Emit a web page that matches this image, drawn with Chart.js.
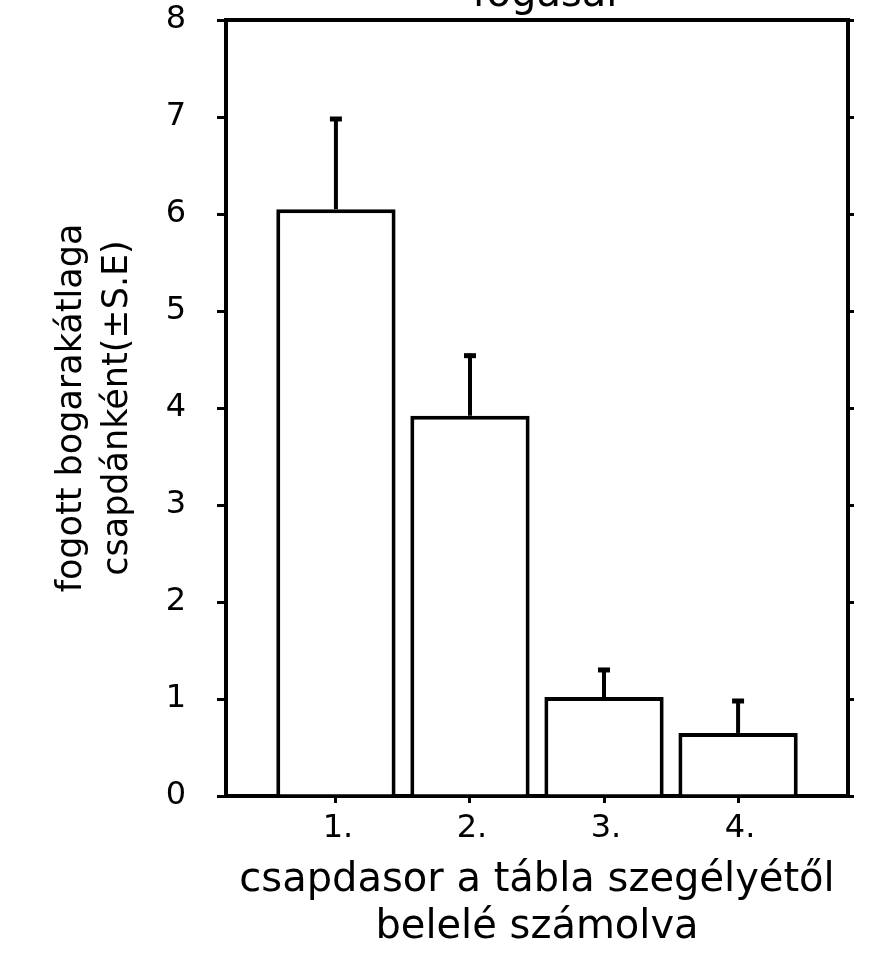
<!DOCTYPE html>
<html><head><meta charset="utf-8">
<style>html,body{margin:0;padding:0;background:#fff;}#wrap{width:891px;height:963px;}</style>
<script src="https://cdn.jsdelivr.net/npm/chart.js@4"></script>
</head><body><div id="wrap"><canvas id="c" width="891" height="963"></canvas></div>
<script>
const chartTitle = 'fogásai';
const categories = ['1.', '2.', '3.', '4.'];
const means = [6.05, 3.92, 1.02, 0.65];
const stdErrors = [0.95, 0.64, 0.30, 0.35];
const yTickValues = [0, 1, 2, 3, 4, 5, 6, 7, 8];
const yTitle = ['fogott bogarakátlaga', 'csapdánként(±S.E)'];
const xTitle = ['csapdasor a tábla szegélyétől', 'belelé számolva'];

const FONT = "'DejaVu Sans', sans-serif";
const barData = categories.map((c, i) => ({ x: i + 1, y: means[i] }));

const errorBarPlugin = {
  id: 'errorBars',
  afterDatasetsDraw(chart) {
    const { ctx, scales: { x, y } } = chart;
    ctx.save();
    ctx.strokeStyle = '#000';
    ctx.lineCap = 'butt';
    means.forEach((m, i) => {
      const px = x.getPixelForValue(i + 1);
      const y0 = y.getPixelForValue(m);
      const y1 = y.getPixelForValue(m + stdErrors[i]);
      ctx.lineWidth = 4;
      ctx.beginPath();
      ctx.moveTo(px, y0);
      ctx.lineTo(px, y1);
      ctx.stroke();
      ctx.lineWidth = 5;
      ctx.beginPath();
      ctx.moveTo(px - 6, y1 + 2);
      ctx.lineTo(px + 6, y1 + 2);
      ctx.stroke();
    });
    ctx.restore();
  }
};

const topTitlePlugin = {
  id: 'topTitle',
  afterDraw(chart) {
    const { ctx, chartArea } = chart;
    ctx.save();
    ctx.fillStyle = '#000';
    ctx.font = '40px ' + FONT;
    ctx.textAlign = 'center';
    ctx.textBaseline = 'alphabetic';
    ctx.fillText(chartTitle, (chartArea.left + chartArea.right) / 2 + 8, 6);
    ctx.restore();
  }
};

new Chart(document.getElementById('c'), {
  type: 'bar',
  data: {
    datasets: [{
      data: barData,
      backgroundColor: '#fff',
      borderColor: '#000',
      borderWidth: 4,
      borderSkipped: 'start',
      barPercentage: 0.89,
      categoryPercentage: 1
    }]
  },
  options: {
    responsive: false,
    animation: false,
    devicePixelRatio: 1,
    layout: { padding: 0 },
    plugins: { legend: { display: false }, tooltip: { enabled: false }, title: { display: false } },
    scales: {
      x: {
        type: 'linear', position: 'bottom', min: 0.18, max: 4.82, offset: false,
        afterBuildTicks(s) { s.ticks = categories.map((c, i) => ({ value: i + 1 })); },
        afterFit(s) { s.height = 167; s.paddingLeft = 0; s.paddingRight = 0; },
        ticks: {
          color: '#000', padding: 10, maxRotation: 0, autoSkip: false, labelOffset: 2,
          font: { family: FONT, size: 32, lineHeight: 1 },
          callback: (v) => categories[v - 1]
        },
        grid: { offset: false, drawOnChartArea: false, tickLength: 7, lineWidth: 3, color: '#000' },
        border: { color: '#000', width: 4 },
        title: {
          display: true, text: xTitle, color: '#000',
          font: { family: FONT, size: 40, lineHeight: '47px' },
          padding: { top: 0, bottom: 12 }
        }
      },
      x2: {
        type: 'linear', position: 'top', min: 0.18, max: 4.82, offset: false,
        afterFit(s) { s.height = 20; s.paddingLeft = 0; s.paddingRight = 0; },
        ticks: { display: false },
        grid: { display: false, offset: false },
        border: { color: '#000', width: 4 }
      },
      y: {
        type: 'linear', position: 'left', min: 0, max: 8,
        afterBuildTicks(s) { s.ticks = yTickValues.map(v => ({ value: v })); },
        afterFit(s) { s.width = 226; s.paddingTop = 0; s.paddingBottom = 0; },
        ticks: {
          color: '#000', padding: 31,
          font: { family: FONT, size: 32, lineHeight: 1 }
        },
        grid: { drawOnChartArea: false, tickLength: 9, lineWidth: 3, color: '#000' },
        border: { color: '#000', width: 4 },
        title: {
          display: true, text: yTitle, color: '#000',
          font: { family: FONT, size: 35, lineHeight: '46px' },
          padding: { top: 49, bottom: 0 }
        }
      },
      y2: {
        type: 'linear', position: 'right', min: 0, max: 8,
        afterBuildTicks(s) { s.ticks = yTickValues.map(v => ({ value: v })); },
        afterFit(s) { s.width = 43; s.paddingTop = 0; s.paddingBottom = 0; },
        ticks: { display: false },
        grid: { drawOnChartArea: false, tickLength: 6, lineWidth: 3, color: '#000' },
        border: { color: '#000', width: 4 }
      }
    }
  },
  plugins: [errorBarPlugin, topTitlePlugin]
});
</script>
</body></html>
